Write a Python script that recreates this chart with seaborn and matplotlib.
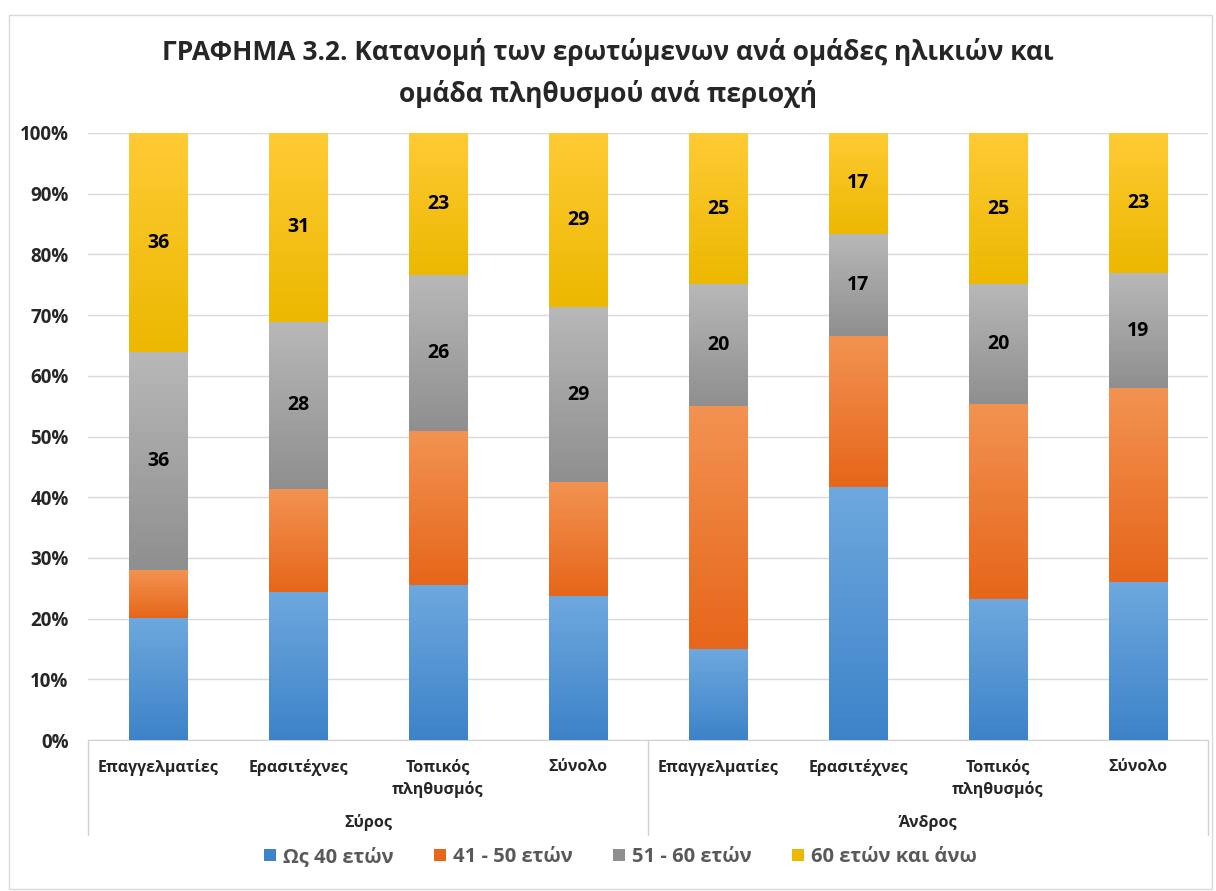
import numpy as np
import pandas as pd
import matplotlib
matplotlib.use('Agg')
import matplotlib.pyplot as plt
import matplotlib.transforms as mtransforms
from matplotlib.colors import LinearSegmentedColormap
from matplotlib.patches import Rectangle, Patch
import seaborn as sns

# Δεδομένα (ποσοστά %) ανά ομάδα
regions = ['Σύρος', 'Άνδρος']
groups = ['Επαγγελματίες', 'Ερασιτέχνες', 'Τοπικός\nπληθυσμός', 'Σύνολο']
ages = ['Ως 40 ετών', '41 - 50 ετών', '51 - 60 ετών', '60 ετών και άνω']
upto40 = [20.1, 24.4, 25.5, 23.7, 15.0, 41.7, 23.2, 26.1]
age41_50 = [7.9, 17.0, 25.4, 18.8, 40.1, 24.9, 32.2, 31.9]
age51_60 = [35.9, 27.5, 25.7, 28.8, 20.0, 16.8, 19.7, 18.9]
over60 = [36.1, 31.1, 23.4, 28.7, 24.9, 16.6, 24.9, 23.1]

# χρώματα (σκούρο κάτω, ανοιχτό πάνω)
grad_colors = [('#3d83c9', '#6ea8de'),
               ('#e6661a', '#f39352'),
               ('#8f8f8f', '#b8b8b8'),
               ('#ecb800', '#ffcb35')]
labeled = [False, False, True, True]

sns.set_style('white')
plt.rcParams['font.family'] = ['Open Sans', 'DejaVu Sans']

keys = [f'{r}|{g}' for r in regions for g in groups]
layers = [upto40, age41_50, age51_60, over60]
cum = np.cumsum(np.array(layers), axis=0)
df = pd.DataFrame({'key': keys})
for k in range(4):
    df[f'cum{k}'] = cum[k]

fig = plt.figure(figsize=(12.16, 8.91), dpi=100)
ax = fig.add_axes([88 / 1216, 1 - 740 / 891, 1120 / 1216, 607 / 891])

# στοίβες: σχεδίαση από πάνω προς τα κάτω με αθροιστικά ύψη
layer_patches = {}
for k in range(3, -1, -1):
    n_before = len(ax.patches)
    sns.barplot(data=df, x='key', y=f'cum{k}', color=grad_colors[k][1],
                width=0.415, ax=ax, zorder=2, errorbar=None, saturation=1)
    layer_patches[k] = ax.patches[n_before:]

# διαβάθμιση χρώματος σε κάθε τμήμα
grad = np.linspace(0, 1, 256).reshape(-1, 1)
for k in range(4):
    cmap = LinearSegmentedColormap.from_list(f'g{k}', list(grad_colors[k]))
    for i, p in enumerate(layer_patches[k]):
        p.set_facecolor('none')
        p.set_edgecolor('none')
        x0 = p.get_x()
        w = p.get_width()
        y0 = cum[k - 1][i] if k > 0 else 0
        y1 = cum[k][i]
        ax.imshow(grad, extent=(x0, x0 + w, y0, y1), cmap=cmap, origin='lower',
                  aspect='auto', zorder=3, interpolation='bilinear')
        if labeled[k]:
            ax.text(x0 + w / 2, (y0 + y1) / 2, f'{round(layers[k][i])}',
                    ha='center', va='center', fontsize=14, fontweight='bold',
                    color='black', zorder=5)

ax.set_xlim(-0.5, 7.5)
ax.set_ylim(0, 100)
ax.set_yticks(range(0, 101, 10))
ax.set_yticklabels([f'{v}%' for v in range(0, 101, 10)], fontsize=13.5,
                   fontweight='bold')
ax.yaxis.grid(True, color='#d9d9d9', lw=1)
ax.set_axisbelow(True)
ax.set_xticks(range(8))
ax.set_xticklabels(groups * 2, fontsize=11.5, fontweight='bold', linespacing=1.45)
ax.tick_params(axis='both', length=0)
ax.tick_params(axis='x', pad=14)
ax.tick_params(axis='y', pad=14)
ax.set_xlabel('')
ax.set_ylabel('')
for s in ['top', 'right', 'left']:
    ax.spines[s].set_visible(False)
ax.spines['bottom'].set_color('#d0d0d0')

# ομάδες περιοχών κάτω από τον άξονα
trans = mtransforms.blended_transform_factory(ax.transData, ax.transAxes)
for xs in [-0.5, 3.5, 7.5]:
    ax.plot([xs, xs], [0, -0.157], transform=trans, color='#d0d0d0', lw=1,
            clip_on=False)
for j, r in enumerate(regions):
    ax.text(1.5 + 4 * j, -0.136, r, transform=trans, ha='center', va='center',
            fontsize=11.5, fontweight='bold')

fig.suptitle('ΓΡΑΦΗΜΑ 3.2. Κατανομή των ερωτώμενων ανά ομάδες ηλικιών και\n'
             'ομάδα πληθυσμού ανά περιοχή', y=1 - 73 / 891, va='center',
             fontsize=19, fontweight='bold', linespacing=1.6)

handles = [Patch(facecolor=grad_colors[k][0], edgecolor='none') for k in range(4)]
leg = fig.legend(handles, ages, loc='center', bbox_to_anchor=(0.51, 1 - 857 / 891),
                 ncol=4, frameon=False, fontsize=14.5, handlelength=0.6,
                 handleheight=0.6, handletextpad=0.35, columnspacing=2.0)
for t in leg.get_texts():
    t.set_color('#595959')
    t.set_fontweight('bold')

fig.patches.append(Rectangle((9 / 1216, 2 / 891), 1203 / 1216, 874 / 891,
                             transform=fig.transFigure, fill=False,
                             edgecolor='#d9d9d9', lw=1))

fig.savefig('out.png', dpi=100)
